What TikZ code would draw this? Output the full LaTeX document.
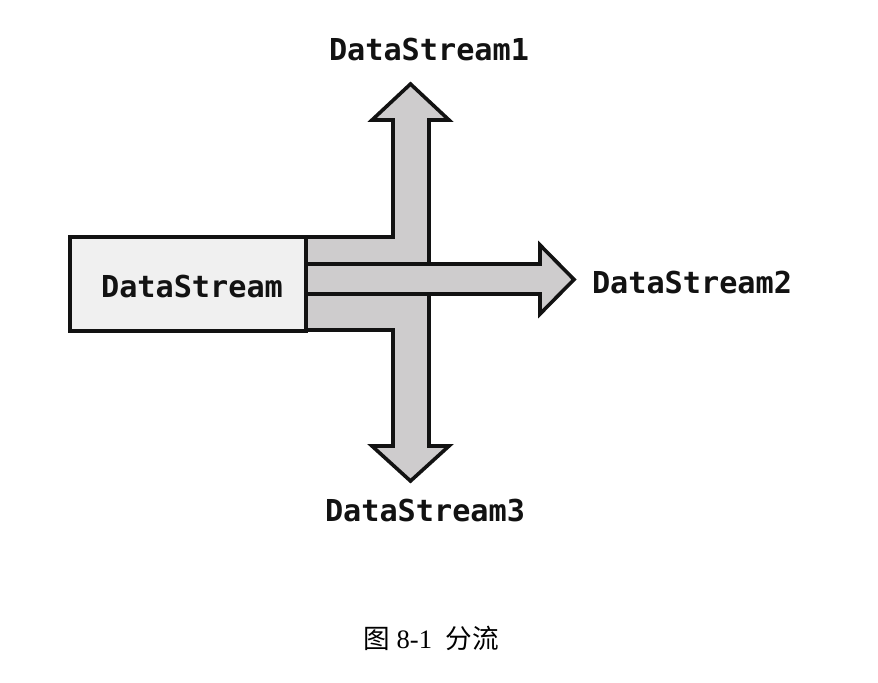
\documentclass[tikz,border=0pt]{standalone}
\usepackage{fontspec}
\setmainfont{Liberation Serif}
\newfontfamily\codefont{DejaVu Sans Mono}
\newfontfamily\cjkfont{Noto Sans CJK SC}
\begin{document}
\begin{tikzpicture}[x=0.5pt,y=-0.5pt,
  flow/.style={draw=black!93,fill=graybody,line width=1.8pt,line join=miter},
  srcbox/.style={draw=black!93,fill=boxfill,line width=1.8pt,minimum width=118pt,minimum height=47pt,inner sep=0pt},
  codelabel/.style={font=\codefont\bfseries\fontsize{15.1pt}{16pt}\selectfont,inner sep=0pt,text=black!93},
  caption/.style={font=\fontsize{13.3pt}{15pt}\selectfont,inner sep=0pt}]
\definecolor{graybody}{RGB}{206,204,205}
\definecolor{boxfill}{RGB}{240,240,240}
\useasboundingbox (0,0) rectangle (878,682);
% horizontal arrow
\draw[flow] (306,264) -- (540,264) -- (540,245) -- (574,279.5) -- (540,314) -- (540,294) -- (306,294) -- cycle;
% upper branch
\draw[flow] (306,237) -- (393,237) -- (393,120) -- (372,120) -- (410.5,84) -- (449,120) -- (429,120) -- (429,264) -- (306,264) -- cycle;
% lower branch
\draw[flow] (306,294) -- (429,294) -- (429,446) -- (449,446) -- (410.5,481) -- (372,446) -- (393,446) -- (393,330) -- (306,330) -- cycle;
% source box
\node[srcbox] (src) at (188,284) {};
\node[codelabel] (srclabel) at (192,286) {DataStream};
\node[codelabel] (ds1) at (429,49) {DataStream1};
\node[codelabel] (ds2) at (692,282) {DataStream2};
\node[codelabel] (ds3) at (425,510) {DataStream3};
\node[caption] (cap) at (431,638) {{\cjkfont 图}\ 8-1\ \ {\cjkfont 分流}};
\end{tikzpicture}
\end{document}
